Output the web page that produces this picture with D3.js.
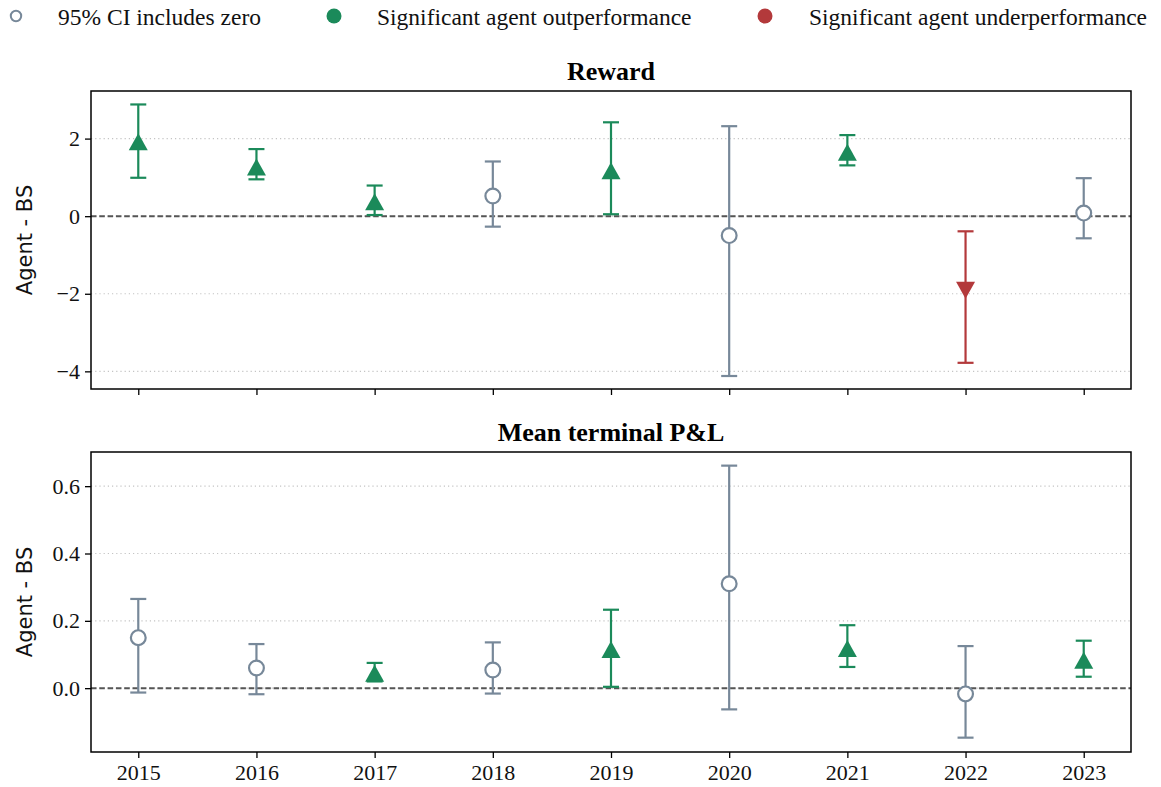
<!DOCTYPE html>
<html>
<head>
<meta charset="utf-8">
<script src="https://cdn.jsdelivr.net/npm/d3@7"></script>
<style>
  body { margin: 0; background: #fff; }
  svg { display: block; }
</style>
</head>
<body>
<svg id="chart" width="1161" height="787"></svg>
<script>
// ---------- data ----------
const years = [2015, 2016, 2017, 2018, 2019, 2020, 2021, 2022, 2023];

const rewardMean = [1.92, 1.27, 0.37, 0.52, 1.17, -0.50, 1.65, -1.91, 0.08];
const rewardLow  = [0.99, 0.95, 0.03, -0.27, 0.05, -4.12, 1.31, -3.78, -0.57];
const rewardHigh = [2.88, 1.73, 0.79, 1.41, 2.42, 2.32, 2.09, -0.39, 0.98];

const pnlMean = [0.150, 0.060, 0.044, 0.054, 0.115, 0.310, 0.118, -0.017, 0.083];
const pnlLow  = [-0.013, -0.018, 0.020, -0.016, 0.004, -0.063, 0.063, -0.147, 0.034];
const pnlHigh = [0.265, 0.131, 0.075, 0.136, 0.233, 0.661, 0.187, 0.125, 0.141];

const rewardTicks = [-4, -2, 0, 2];
const pnlTicks = [0.0, 0.2, 0.4, 0.6];

const legendLabels = ["95% CI includes zero", "Significant agent outperformance", "Significant agent underperformance"];
const panelTitles = ["Reward", "Mean terminal P&L"];
const yLabel = "Agent - BS";

// ---------- style ----------
const COLORS = { zero: "#778899", up: "#1b8a5a", down: "#b3393b" };
const serif = "'Liberation Serif', 'Times New Roman', serif";
const sans = "'DejaVu Sans', sans-serif";

const svg = d3.select("#chart");
const L = 91, R = 1131;

const x = d3.scaleLinear().domain([2014.6, 2023.4]).range([L, R]);

function status(lo, hi) {
  if (lo > 0) return "up";
  if (hi < 0) return "down";
  return "zero";
}

function panel(cfg) {
  const { top, bottom, domain, ticks, fmt, mean, low, high, title, showXLabels } = cfg;
  const y = d3.scaleLinear().domain(domain).range([bottom, top]);
  const g = svg.append("g");

  // grid
  g.append("g").selectAll("line").data(ticks).join("line")
    .attr("x1", L).attr("x2", R)
    .attr("y1", d => y(d)).attr("y2", d => y(d))
    .attr("stroke", "#c4c4c4").attr("stroke-width", 1.2)
    .attr("stroke-dasharray", "1.2,3");

  // zero line
  g.append("line")
    .attr("x1", L).attr("x2", R).attr("y1", y(0)).attr("y2", y(0))
    .attr("stroke", "#555").attr("stroke-width", 2)
    .attr("stroke-dasharray", "5.5,2.8");

  // axes
  const yAxis = d3.axisLeft(y).tickValues(ticks).tickSize(6).tickPadding(5).tickFormat(fmt);
  const ya = g.append("g").attr("transform", `translate(${L},0)`).call(yAxis);
  ya.select(".domain").remove();
  ya.selectAll(".tick line").attr("stroke", "#000").attr("stroke-width", 1.3);
  ya.selectAll(".tick text").attr("font-family", serif).attr("font-size", 22).attr("fill", "#111");

  const xAxis = d3.axisBottom(x).tickValues(years).tickSize(6).tickPadding(6)
    .tickFormat(showXLabels ? d3.format("d") : () => "");
  const xa = g.append("g").attr("transform", `translate(0,${bottom})`).call(xAxis);
  xa.select(".domain").remove();
  xa.selectAll(".tick line").attr("stroke", "#000").attr("stroke-width", 1.3);
  xa.selectAll(".tick text").attr("font-family", serif).attr("font-size", 22).attr("fill", "#111");

  // frame
  g.append("rect").attr("x", L).attr("y", top).attr("width", R - L).attr("height", bottom - top)
    .attr("fill", "none").attr("stroke", "#000").attr("stroke-width", 1.5);

  const rows = years.map((yr, i) => ({ yr, m: mean[i], lo: low[i], hi: high[i], s: status(low[i], high[i]) }));

  // error bars
  const eb = g.append("g").selectAll("g").data(rows).join("g")
    .attr("stroke", d => COLORS[d.s]).attr("stroke-width", 2.2);
  eb.append("line").attr("x1", d => x(d.yr)).attr("x2", d => x(d.yr))
    .attr("y1", d => y(d.lo)).attr("y2", d => y(d.hi));
  eb.append("line").attr("x1", d => x(d.yr) - 8).attr("x2", d => x(d.yr) + 8)
    .attr("y1", d => y(d.lo)).attr("y2", d => y(d.lo));
  eb.append("line").attr("x1", d => x(d.yr) - 8).attr("x2", d => x(d.yr) + 8)
    .attr("y1", d => y(d.hi)).attr("y2", d => y(d.hi));

  // markers
  const mk = g.append("g").selectAll("g").data(rows).join("g")
    .attr("transform", d => `translate(${x(d.yr)},${y(d.m)})`);
  mk.filter(d => d.s === "zero").append("circle").attr("r", 7.4)
    .attr("fill", "#fff").attr("stroke", COLORS.zero).attr("stroke-width", 2.2);
  mk.filter(d => d.s === "up").append("path").attr("d", "M0,-8.5L9.5,8.5L-9.5,8.5Z")
    .attr("fill", COLORS.up);
  mk.filter(d => d.s === "down").append("path").attr("d", "M0,8.5L9.5,-8.5L-9.5,-8.5Z")
    .attr("fill", COLORS.down);

  // title
  svg.append("text").attr("x", (L + R) / 2).attr("y", top - 11)
    .attr("text-anchor", "middle").attr("font-family", serif).attr("font-weight", "bold")
    .attr("font-size", 26).attr("fill", "#000").text(title);

  // y label
  svg.append("text").attr("transform", `translate(32,${(top + bottom) / 2}) rotate(-90)`)
    .attr("text-anchor", "middle").attr("font-family", sans).attr("font-size", 21)
    .attr("fill", "#111").text(yLabel);
}

panel({ top: 91, bottom: 389, domain: [-4.455, 3.227], ticks: rewardTicks,
  fmt: d => d3.format("d")(d).replace("-", "\u2212"),
  mean: rewardMean, low: rewardLow, high: rewardHigh, title: panelTitles[0], showXLabels: false });

panel({ top: 452, bottom: 752, domain: [-0.1896, 0.7015], ticks: pnlTicks,
  fmt: d3.format(".1f"),
  mean: pnlMean, low: pnlLow, high: pnlHigh, title: panelTitles[1], showXLabels: true });

// legend
const lg = svg.append("g");
const legendItems = [
  { label: legendLabels[0], cx: 16, tx: 58, kind: "zero" },
  { label: legendLabels[1], cx: 334, tx: 377, kind: "up" },
  { label: legendLabels[2], cx: 765, tx: 809, kind: "down" }
];
legendItems.forEach(it => {
  if (it.kind === "zero") {
    lg.append("circle").attr("cx", it.cx).attr("cy", 16).attr("r", 5.2)
      .attr("fill", "#fff").attr("stroke", COLORS.zero).attr("stroke-width", 2);
  } else {
    lg.append("circle").attr("cx", it.cx).attr("cy", 16).attr("r", 7.5).attr("fill", COLORS[it.kind]);
  }
  lg.append("text").attr("x", it.tx).attr("y", 25).attr("font-family", serif)
    .attr("font-size", 23.5).attr("fill", "#111").text(it.label);
});
</script>
</body>
</html>
